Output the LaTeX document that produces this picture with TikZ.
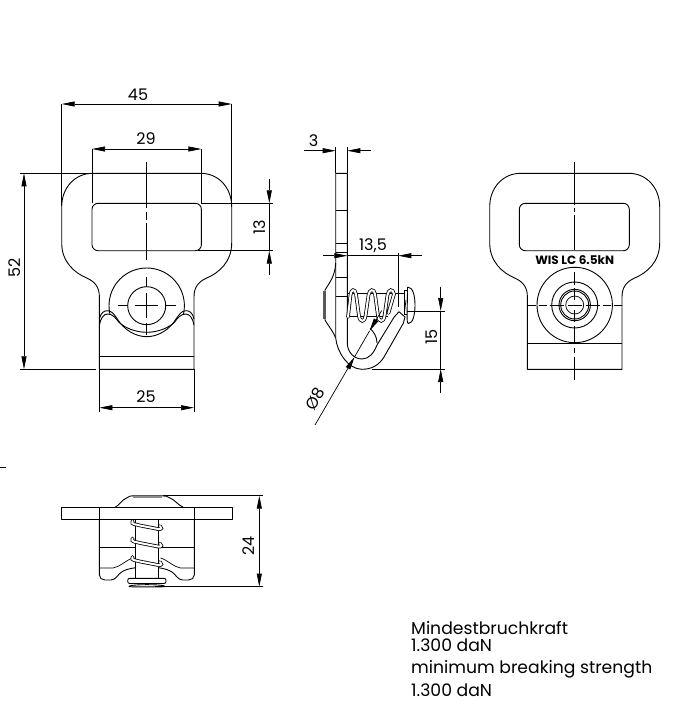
\documentclass[tikz,border=0pt]{standalone}
\usepackage{fontspec}
\setmainfont{Poppins}
\usetikzlibrary{arrows.meta}
\tikzstyle{part} = [line width=0.9pt,line join=round]
\tikzstyle{thin part} = [line width=0.7pt]
\tikzstyle{centerline} = [line width=0.6pt]
\tikzstyle{dimline} = [line width=0.7pt]
\tikzstyle{dimarrow} = [line width=0.7pt,-{Triangle[length=13pt,width=5pt]}]
\tikzstyle{dimboth} = [line width=0.7pt,{Triangle[length=13pt,width=5pt]}-{Triangle[length=13pt,width=5pt]}]
\tikzstyle{dimtext} = [font=\fontsize{16}{17}\selectfont,inner sep=0pt]
\tikzstyle{note} = [font=\fontsize{17.2}{18}\selectfont,inner sep=0pt,anchor=base west]
\tikzstyle{coil} = [line width=0.8pt,double=white,double distance=2pt,line cap=round]
% outline of the tab, x measured from its centre line
\def\plateoutline{(-54,173.3) -- (54,173.3) .. controls (72,173.3) and (85,188) .. (85,206.7) -- (85,243)
  .. controls (85,262) and (72,273) .. (60,278) .. controls (51,282) and (47.3,288) .. (47.3,297) -- (47.3,369.3)
  -- (-47.3,369.3) -- (-47.3,297) .. controls (-47.3,288) and (-51,282) .. (-60,278)
  .. controls (-72,273) and (-85,262) .. (-85,243) -- (-85,206.7) .. controls (-85,188) and (-72,173.3) .. (-54,173.3) -- cycle}

\begin{document}
\begin{tikzpicture}[x=1pt,y=-1pt]
  \useasboundingbox (0,0) rectangle (684,723);
  \draw[dimline] (0,467) -- (6,467);

  % front view
  \begin{scope}[xshift=146.7pt]
    \draw[part] \plateoutline;
    \draw[part,rounded corners=6pt] (-54.7,203.3) rectangle (54.7,250.7);
    \draw[part] (-47.3,356.7) -- (47.3,356.7);
    \begin{scope}
      \clip (-60,250) rectangle (60,313);
      \draw[part] (0,305.7) circle[radius=37.7];
    \end{scope}
    \draw[part] (0,305.7) circle[radius=19];
    % the two wavy edges
    \draw[part] (-47.3,319) .. controls (-46,313) and (-43,310.7) .. (-39.4,310.7) .. controls (-35,310.7) and (-33,314) .. (-30,318)
      .. controls (-23,330) and (-11,336.7) .. (0,336.7) .. controls (11,336.7) and (23,330) .. (30,318)
      .. controls (33,314) and (35,310.7) .. (39.4,310.7) .. controls (43,310.7) and (46,313) .. (47.3,319);
    \draw[part] (-47.3,325) .. controls (-46,318) and (-43,314) .. (-39,314) .. controls (-34,314) and (-31,318) .. (-28,322)
      .. controls (-22,328) and (-11,332.3) .. (0,332.3) .. controls (11,332.3) and (22,328) .. (28,322)
      .. controls (31,318) and (34,314) .. (39,314) .. controls (43,314) and (46,318) .. (47.3,325);
    % centre lines
    \foreach \a/\b in {161.7/208,211.7/220,222.5/260,276.7/287,293/318,323/335}
      \draw[centerline] (0,\a) -- (0,\b);
    \foreach \a/\b in {-28.7/-18.7,-11.7/11.7,18.7/29.3}
      \draw[centerline] (\a,305.7) -- (\b,305.7);
  \end{scope}

  % dimensions of the front view
  \coordinate (wl) at (61.7,104);
  \coordinate (wr) at (231.7,104);
  \draw[dimline] (wl) -- (61.7,206) (wr) -- (231.7,206);
  \draw[dimboth] (wl) -- (wr);
  \node[dimtext] (w45) at (138,95) {45};
  \coordinate (sl) at (92,149);
  \coordinate (sr) at (201.4,149);
  \draw[dimline] (sl) -- (92,203) (sr) -- (201.4,203);
  \draw[dimboth] (sl) -- (sr);
  \node[dimtext] (w29) at (146,139) {29};
  \coordinate (ht) at (24,173.3);
  \coordinate (hb) at (24,369.3);
  \draw[dimline] (20,173.3) -- (92,173.3) (20,369.3) -- (96,369.3);
  \draw[dimboth] (ht) -- (hb);
  \node[dimtext,rotate=90] (h52) at (15,268) {52};
  \draw[dimline] (201,203.3) -- (273,203.3) (198,250.7) -- (273,250.7);
  \draw[dimarrow] (269.3,179) -- (269.3,203.3);
  \draw[dimarrow] (269.3,275) -- (269.3,250.7);
  \draw[dimline] (269.3,203.3) -- (269.3,250.7);
  \node[dimtext,rotate=90] (s13) at (260,227) {13};
  \coordinate (nl) at (99.4,407.7);
  \coordinate (nr) at (194,407.7);
  \draw[dimline] (99.4,369) -- (99.4,411.5) (194,369) -- (194,411.5);
  \draw[dimboth] (nl) -- (nr);
  \node[dimtext] (n25) at (146,397) {25};

  % side view
  \draw[part] (335.7,263) -- (335.7,173.3) -- (347.3,173.3) -- (347.3,343)
    .. controls (347.3,352) and (354,359) .. (362,359) .. controls (369,359) and (374,353) .. (377,345) -- (394,317.3)
    -- (399,311.7) -- (405,317) -- (403.3,323.3) -- (384,357) .. controls (379,365) and (372,369.3) .. (362,369.3)
    .. controls (348,369.3) and (337,352) .. (335.7,338) -- (335.7,263);
  \draw[part] (377,343) .. controls (377,337) and (374,332) .. (370,328.5);
  \foreach \y in {210.7,243.3,252.7,277.7,296}
    \draw[thin part] (335.7,\y) -- (347.3,\y);
  % boss behind the plate
  \draw[part] (335.7,263) .. controls (335,276) and (330,282) .. (325,290) -- (325,320)
    .. controls (329,327) and (333,331) .. (335.7,338);
  \fill[black!65] (323.3,291) rectangle (326,319);
  % bolt and spring
  \draw[thin part] (347.3,293.3) -- (404.5,293.3) (347.3,316.7) -- (388,316.7);
  \draw[coil] (348,317) -- (350.5,295) .. controls (351,289) and (355,288.5) .. (356,294) -- (359,316)
    .. controls (360,322.5) and (364.5,322.5) .. (365.5,316) -- (368.5,295) .. controls (369.5,289) and (374,288.5) .. (375,294) -- (378,316)
    .. controls (379,322.5) and (383.5,322.5) .. (384.5,316) -- (387.5,295) .. controls (388.5,289) and (393,288.5) .. (394,294) -- (388.5,313);
  \draw[part,fill=white] (404.7,290.5) rectangle (407.5,314);
  \draw[part,fill=white] (407.5,287) .. controls (413,287) and (415,296) .. (415,305) .. controls (415,314) and (413,323.5) .. (408.5,323.5)
    .. controls (406,323.5) and (407.5,310) .. (407.5,287);
  \draw[thin part] (404.5,312) -- (406,300);

  % dimensions of the side view
  \draw[dimline] (335.7,147) -- (335.7,173) (347.3,147) -- (347.3,173);
  \draw[dimarrow] (304,150.7) -- (335.7,150.7);
  \draw[dimarrow] (371,150.7) -- (347.3,150.7);
  \node[dimtext] (t3) at (313.5,141) {3};
  \draw[dimline] (398.3,252.7) -- (398.3,306.7);
  \draw[dimline] (347.3,255.7) -- (398.3,255.7);
  \draw[dimarrow] (323.3,255.7) -- (347.3,255.7);
  \draw[dimarrow] (421.7,255.7) -- (398.3,255.7);
  \node[dimtext] (d135) at (373,246) {13,5};
  \draw[dimline] (407,311) -- (445,311) (372,369) -- (445,369);
  \draw[dimarrow] (440.7,286.7) -- (440.7,311);
  \draw[dimarrow] (440.7,393) -- (440.7,369);
  \draw[dimline] (440.7,311) -- (440.7,369);
  \node[dimtext,rotate=90] (d15) at (431.7,336.7) {15};
  \coordinate (dia) at (354.5,357);
  \coordinate (dib) at (369.5,331);
  \draw[dimline] (dia) -- (dib);
  \draw[dimarrow] (315,425) -- (dia);
  \draw[dimarrow] (381.7,310.5) -- (dib);
  \node[dimtext,rotate=60] (d8) at (315,399) {Ø8};

  % rear view
  \begin{scope}[xshift=574.7pt]
    \foreach \a/\b in {162/205,208/212,215/250,272/285,288/300,310/322,326/342,348/353,357/380}
      \draw[centerline] (0,\a) -- (0,\b);
    \foreach \a/\b in {-47/-39,-36/-28,-25/-11,11/25,28/36,39/47}
      \draw[centerline] (\a,305) -- (\b,305);
    \draw[centerline] (-7,305) -- (7,305);
    \draw[part] \plateoutline;
    \draw[part,rounded corners=6pt] (-55.4,203.3) rectangle (54.6,250.7);
    \draw[part] (-47.3,343.3) -- (47.3,343.3);
    \foreach \r in {37.7,23,15.7,14}
      \draw[part] (0,305) circle[radius=\r];
    \draw[thin part] (0,305) circle[radius=9];
    \node[font=\fontsize{12}{12}\selectfont\bfseries,inner sep=0pt,fill=white] (mark) at (0,260) {WIS LC 6.5kN};
  \end{scope}

  % top view
  \draw[part] (99.3,519.3) -- (99.3,575) .. controls (99.3,578) and (102,580) .. (105,580) -- (111,580)
    .. controls (116,580) and (118,574) .. (122,571.7) .. controls (125,570) and (129,568.5) .. (135.7,567.7);
  \draw[part] (194.3,519.3) -- (194.3,575) .. controls (194.3,578) and (191.6,580) .. (188.6,580) -- (182.6,580)
    .. controls (177.6,580) and (175.6,574) .. (171.6,571.7) .. controls (168.6,570) and (164.6,568.5) .. (158.3,567.7);
  \draw[thin part] (99.3,568) -- (113,568) .. controls (120,567) and (126,560) .. (133,558);
  \draw[thin part] (194.3,568) -- (180.6,568) .. controls (173.6,567) and (167.6,560) .. (160.6,558);
  \draw[thin part] (99.3,547.7) -- (194.3,547.7);
  \draw[part,fill=white] (135.7,519.3) rectangle (158.3,578);
  \foreach \y in {521,538.5,557}
    \draw[coil] (132.5,\y) .. controls (131,\y+4) and (136,\y+3) .. (140,\y+4.5) -- (158,\y+8) .. controls (162,\y+9) and (162,\y+6) .. (160,\y+5);
  \draw[part] (115,507.3) .. controls (120,505) and (122,499.5) .. (126.7,498) .. controls (128,496.5) and (131,495.7) .. (133.3,495.7) -- (161.7,495.7)
    .. controls (165,495.7) and (168,496.5) .. (170,498) .. controls (175,500) and (178,505) .. (183.3,507.3);
  \fill[black!45] (133.3,495.7) rectangle (161.7,498);
  \draw[part,fill=white] (61.7,507.3) rectangle (232.7,519.3);
  \draw[thin part] (99.3,507.3) -- (99.3,519.3) (194.3,507.3) -- (194.3,519.3);
  \draw[part,fill=white] (129,586.7) .. controls (135,587) and (159,587) .. (165,586.7) .. controls (167,584) and (127,584) .. (129,586.7) -- cycle;
  \draw[part,fill=white,rounded corners=2pt] (127.7,578.3) rectangle (166,583.5);

  % height of the top view
  \coordinate (vt) at (259.3,495.7);
  \coordinate (vb) at (259.3,586.7);
  \draw[dimline] (163,495.7) -- (263.3,495.7) (155,586.7) -- (263.3,586.7);
  \draw[dimboth] (vt) -- (vb);
  \node[dimtext,rotate=90] (v24) at (249,546) {24};

  % notes
  \node[note] (noteA) at (411,634) {Mindestbruchkraft};
  \node[note] (noteB) at (411,651.7) {1.300 daN};
  \node[note] (noteC) at (411,673.3) {minimum breaking strength};
  \node[note] (noteD) at (411,696.7) {1.300 daN};
\end{tikzpicture}
\end{document}
